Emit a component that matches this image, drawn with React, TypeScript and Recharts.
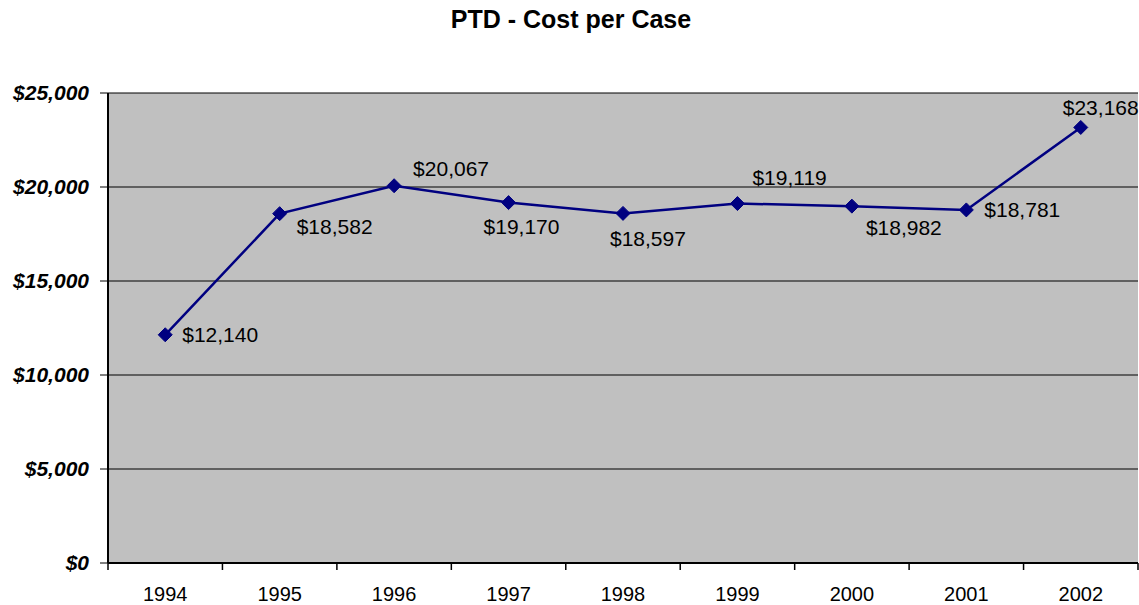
import { CartesianGrid, Line, LineChart, XAxis, YAxis } from "recharts";

const years = ["1994", "1995", "1996", "1997", "1998", "1999", "2000", "2001", "2002"];
const costPerCase = [12140, 18582, 20067, 19170, 18597, 19119, 18982, 18781, 23168];
const yTicks = [0, 5000, 10000, 15000, 20000, 25000];

// where Excel put each data label, relative to its marker
const labelPlacement = [
  { dx: 17, dy: 0 },
  { dx: 17, dy: 13 },
  { dx: 19, dy: -17 },
  { dx: -25, dy: 24 },
  { dx: -13, dy: 25 },
  { dx: 15, dy: -26 },
  { dx: 14, dy: 21 },
  { dx: 18, dy: 0 },
  { dx: -18, dy: -20 },
];

const data = years.map((year, i) => ({ year, cost: costPerCase[i] }));

const money = new Intl.NumberFormat("en-US", {
  style: "currency",
  currency: "USD",
  maximumFractionDigits: 0,
});

const FONT = "'Liberation Sans', Arial, sans-serif";
const X_TICK_SIZE = 7;
const X_TICK_MARGIN = 24;

function Diamond(props: any) {
  const { cx, cy } = props;
  if (cx == null || cy == null) return null;
  const r = 7;
  return (
    <path
      d={`M${cx},${cy - r}L${cx + r},${cy}L${cx},${cy + r}L${cx - r},${cy}Z`}
      fill="#000080"
      stroke="#000080"
    />
  );
}

// year label in the middle of its slot, tick marks on the slot edges (Excel style)
function YearTick(props: any) {
  const { x, y, payload, index, visibleTicksCount } = props;
  const half = payload?.offset ?? 0;
  const y1 = y - X_TICK_MARGIN - X_TICK_SIZE;
  const y2 = y1 + X_TICK_SIZE;
  const isLast = index === visibleTicksCount - 1;
  return (
    <g>
      <line x1={x - half} x2={x - half} y1={y1} y2={y2} stroke="#000" strokeWidth={1.5} />
      {isLast && <line x1={x + half} x2={x + half} y1={y1} y2={y2} stroke="#000" strokeWidth={1.5} />}
      <text
        x={x}
        y={y}
        textAnchor="middle"
        dominantBaseline="central"
        fontFamily={FONT}
        fontSize={20}
        fill="#000"
      >
        {payload.value}
      </text>
    </g>
  );
}

function PointLabel(props: any) {
  const { x, y, value, index } = props;
  const p = labelPlacement[index] ?? { dx: 10, dy: 0 };
  return (
    <text
      x={x + p.dx}
      y={y + p.dy}
      textAnchor="start"
      dominantBaseline="central"
      fontFamily={FONT}
      fontSize={21}
      fill="#000"
    >
      {money.format(value)}
    </text>
  );
}

export default function App() {
  return (
    <div style={{ position: "absolute", left: 0, top: 0, width: 1139, height: 605, background: "#fff" }}>
      <div
        style={{
          position: "absolute",
          left: 0,
          top: 5,
          width: 1142,
          textAlign: "center",
          fontFamily: FONT,
          fontWeight: "bold",
          fontSize: 25,
        }}
      >
        PTD - Cost per Case
      </div>
      <LineChart
        width={1139}
        height={605}
        data={data}
        margin={{ top: 93, right: 1, bottom: 0, left: 0 }}
      >
        <CartesianGrid vertical={false} fill="#c0c0c0" stroke="#000" strokeOpacity={1} />
        <XAxis
          dataKey="year"
          scale="band"
          height={42}
          interval={0}
          axisLine={{ stroke: "#000", strokeWidth: 2 }}
          tickLine={false}
          tickSize={X_TICK_SIZE}
          tickMargin={X_TICK_MARGIN}
          tick={<YearTick />}
        />
        <YAxis
          domain={[0, 25000]}
          ticks={yTicks}
          width={108}
          tickSize={8}
          tickMargin={11}
          tickFormatter={(v: number) => money.format(v)}
          axisLine={{ stroke: "#000", strokeWidth: 2 }}
          tickLine={{ stroke: "#000" }}
          tick={{ fontFamily: FONT, fontSize: 21, fontWeight: "bold", fontStyle: "italic", fill: "#000" }}
        />
        <Line
          dataKey="cost"
          stroke="#000080"
          strokeWidth={2.5}
          dot={<Diamond />}
          activeDot={false}
          label={<PointLabel />}
          isAnimationActive={false}
        />
      </LineChart>
    </div>
  );
}
